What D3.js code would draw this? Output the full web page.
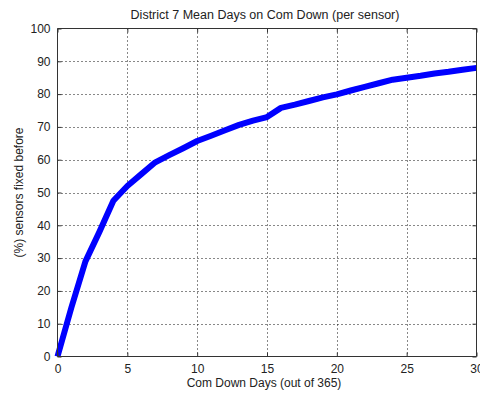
<!DOCTYPE html>
<html>
<head>
<meta charset="utf-8">
<script src="https://cdn.jsdelivr.net/npm/d3@7"></script>
<style>
  html, body { margin: 0; padding: 0; background: #fff; }
  svg text { font-family: "Liberation Sans", Arial, sans-serif; fill: #222; }
</style>
</head>
<body>
<svg id="chart" width="480" height="394"></svg>
<script>
// Cumulative share of sensors fixed within N days of comms downtime
const days = [0,1,2,3,4,5,6,7,8,9,10,11,12,13,14,15,16,17,18,19,20,21,22,23,24,25,26,27,28,29,30];
const pctFixed = [0,15,29,38,47.5,52,55.6,59.2,61.4,63.5,65.7,67.3,69,70.6,71.9,73,75.8,76.8,77.9,79,79.9,81.1,82.2,83.3,84.4,85,85.6,86.3,86.8,87.4,88];
const xTicks = [0,5,10,15,20,25,30];
const yTicks = [0,10,20,30,40,50,60,70,80,90,100];

const titleText = "District 7 Mean Days on Com Down (per sensor)";
const xLabel = "Com Down Days (out of 365)";
const yLabel = "(%) sensors fixed before";

const svg = d3.select("#chart");
const plotL = 57.5, plotR = 476.5, plotT = 28.5, plotB = 356.5;

const x = d3.scaleLinear().domain([0, 30]).range([plotL, plotR]);
const y = d3.scaleLinear().domain([0, 100]).range([plotB, plotT]);

// dotted grid
const grid = svg.append("g").attr("stroke", "#111").attr("stroke-width", 1)
  .attr("stroke-dasharray", "1,3");
grid.selectAll(".gx").data(xTicks.slice(1, -1)).join("line")
  .attr("x1", d => Math.round(x(d)) + 0.5).attr("x2", d => Math.round(x(d)) + 0.5)
  .attr("y1", plotT).attr("y2", plotB);
grid.selectAll(".gy").data(yTicks.slice(1, -1)).join("line")
  .attr("y1", d => Math.round(y(d)) + 0.5).attr("y2", d => Math.round(y(d)) + 0.5)
  .attr("x1", plotL).attr("x2", plotR);

// data line
const line = d3.line().x((d, i) => x(days[i])).y(d => y(d));
svg.append("path").datum(pctFixed)
  .attr("d", line)
  .attr("fill", "none")
  .attr("stroke", "#0000ff")
  .attr("stroke-width", 6)
  .attr("stroke-linejoin", "round");

// axes with inward ticks on all four sides
const fs = "12px";
const axB = d3.axisBottom(x).tickValues(xTicks).tickSize(-4).tickPadding(8);
const axT = d3.axisTop(x).tickValues(xTicks).tickSize(-4).tickFormat("");
const axL = d3.axisLeft(y).tickValues(yTicks).tickSize(-4).tickPadding(7);
const axR = d3.axisRight(y).tickValues(yTicks).tickSize(-4).tickFormat("");

function style(g) {
  g.selectAll("path").attr("stroke", "#333");
  g.selectAll("line").attr("stroke", "#333");
  g.selectAll("text").attr("font-size", fs).attr("fill", "#222")
    .style("font-family", "'Liberation Sans', Arial, sans-serif");
}
svg.append("g").attr("transform", `translate(0,${plotB})`).call(axB).call(style)
  .call(g => g.select(".domain").attr("d", `M${plotL},0H${plotR}`));
svg.append("g").attr("transform", `translate(0,${plotT})`).call(axT).call(style)
  .call(g => g.select(".domain").attr("d", `M${plotL},0H${plotR}`));
svg.append("g").attr("transform", `translate(${plotL},0)`).call(axL).call(style)
  .call(g => g.select(".domain").attr("d", `M0,${plotT}V${plotB}`));
svg.append("g").attr("transform", `translate(${plotR},0)`).call(axR).call(style)
  .call(g => g.select(".domain").attr("d", `M0,${plotT}V${plotB}`));

// labels
svg.append("text").attr("x", 265).attr("y", 19)
  .attr("text-anchor", "middle").attr("font-size", "12.5px").text(titleText);
svg.append("text").attr("x", 264).attr("y", 387)
  .attr("text-anchor", "middle").attr("font-size", "12px").text(xLabel);
svg.append("text").attr("transform", `translate(23,${(plotT + plotB) / 2}) rotate(-90)`)
  .attr("text-anchor", "middle").attr("font-size", "12px").text(yLabel);
</script>
</body>
</html>
